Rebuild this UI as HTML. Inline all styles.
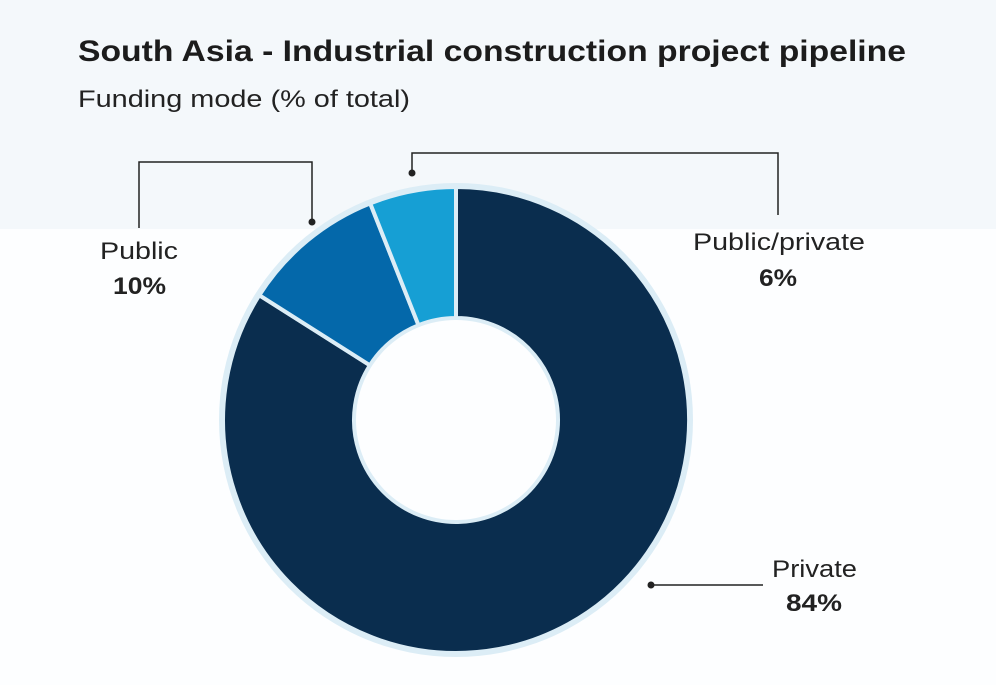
<!DOCTYPE html>
<html><head><meta charset="utf-8"><style>
html,body{margin:0;padding:0}
body{width:996px;height:680px;overflow:hidden;font-family:"Liberation Sans",sans-serif;background:#fdfeff}
</style></head><body>
<svg width="996" height="680" viewBox="0 0 996 680" xmlns="http://www.w3.org/2000/svg">
<rect x="0" y="0" width="996" height="229" fill="#f4f8fb"/>
<rect x="0" y="229" width="996" height="451" fill="#fdfeff"/>
<text x="78" y="61" font-size="30" font-weight="bold" fill="#1c1c1c" textLength="828" lengthAdjust="spacingAndGlyphs">South Asia - Industrial construction project pipeline</text>
<text x="78" y="107" font-size="24" fill="#222" textLength="332" lengthAdjust="spacingAndGlyphs">Funding mode (% of total)</text>
<circle cx="456" cy="420" r="237" fill="#dcedf6"/>
<g stroke="#dcedf6" stroke-width="4" stroke-linejoin="miter">
<path d="M456,187 A233,233 0 1 1 259.3,295.2 L369.9,365.3 A102,102 0 1 0 456,318 Z" fill="#0a2d4e"/>
<path d="M259.3,295.2 A233,233 0 0 1 370.2,203.4 L418.5,325.2 A102,102 0 0 0 369.9,365.3 Z" fill="#0468aa"/>
<path d="M370.2,203.4 A233,233 0 0 1 456,187 L456,318 A102,102 0 0 0 418.5,325.2 Z" fill="#169fd4"/>
</g>
<circle cx="456" cy="420" r="100" fill="#fdfeff"/>
<g stroke="#222" stroke-width="1.5" fill="none">
<polyline points="312,222 312,162 139,162 139,228"/>
<polyline points="412,173 412,153 778,153 778,215"/>
<line x1="651" y1="585" x2="763" y2="585"/>
</g>
<g fill="#222"><circle cx="312" cy="222" r="3.5"/><circle cx="412" cy="173" r="3.5"/><circle cx="651" cy="585" r="3.5"/></g>
<g font-size="24" fill="#222">
<text x="100" y="259" textLength="78" lengthAdjust="spacingAndGlyphs">Public</text>
<text x="113" y="294" font-weight="bold" textLength="53" lengthAdjust="spacingAndGlyphs">10%</text>
<text x="693" y="250" textLength="172" lengthAdjust="spacingAndGlyphs">Public/private</text>
<text x="759" y="286" font-weight="bold" textLength="38" lengthAdjust="spacingAndGlyphs">6%</text>
<text x="772" y="577" textLength="85" lengthAdjust="spacingAndGlyphs">Private</text>
<text x="786" y="611" font-weight="bold" textLength="56" lengthAdjust="spacingAndGlyphs">84%</text>
</g>
</svg>
</body></html>
